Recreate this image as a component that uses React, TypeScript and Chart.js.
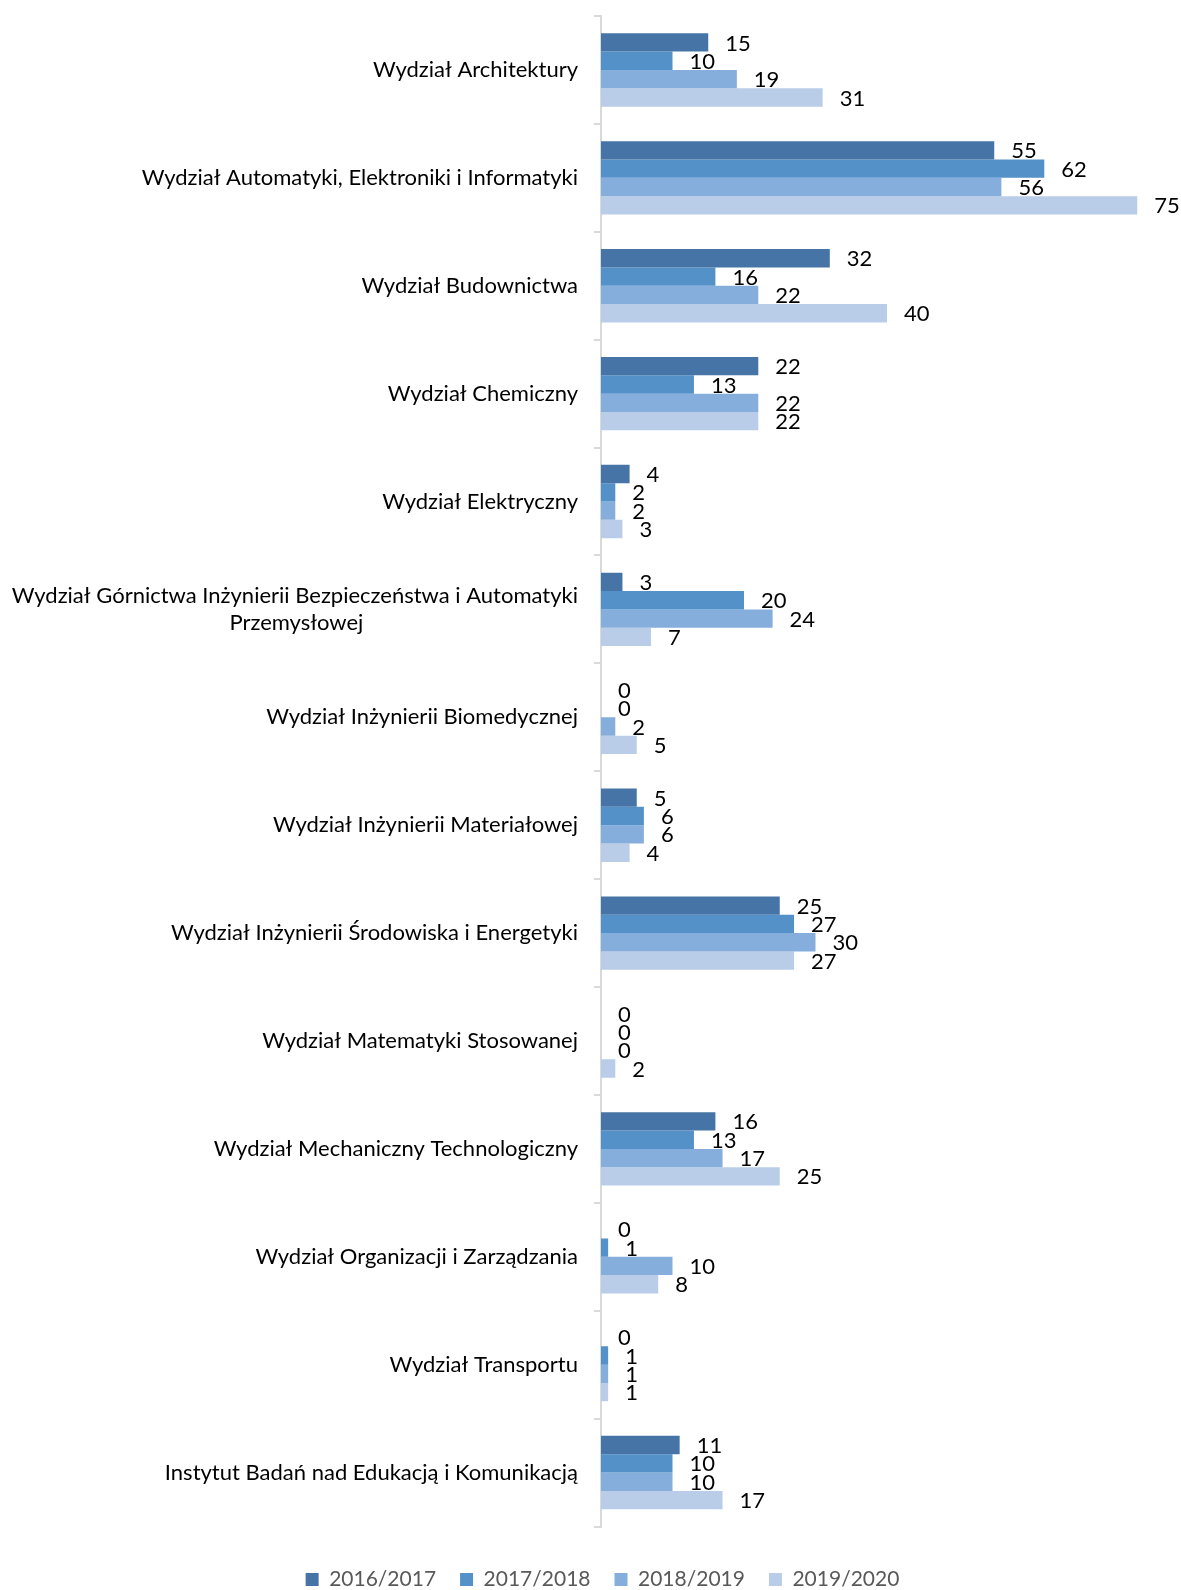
import React, { useEffect, useRef } from "react";
import { Chart, registerables } from "chart.js";

Chart.register(...registerables);

const EN = "\u2002";

const categories: (string | string[])[] = [
  "Wydział Architektury",
  "Wydział Automatyki, Elektroniki i Informatyki",
  "Wydział Budownictwa",
  "Wydział Chemiczny",
  "Wydział Elektryczny",
  ["Wydział Górnictwa Inżynierii Bezpieczeństwa i Automatyki", "Przemysłowej" + EN.repeat(19) + " "],
  "Wydział Inżynierii Biomedycznej",
  "Wydział Inżynierii Materiałowej",
  "Wydział Inżynierii Środowiska i Energetyki",
  "Wydział Matematyki Stosowanej",
  "Wydział Mechaniczny Technologiczny",
  "Wydział Organizacji i Zarządzania",
  "Wydział Transportu",
  "Instytut Badań nad Edukacją i Komunikacją",
];

const seriesLabels = ["2016/2017", "2017/2018", "2018/2019", "2019/2020"];
const values2016 = [15, 55, 32, 22, 4, 3, 0, 5, 25, 0, 16, 0, 0, 11];
const values2017 = [10, 62, 16, 13, 2, 20, 0, 6, 27, 0, 13, 1, 1, 10];
const values2018 = [19, 56, 22, 22, 2, 24, 2, 6, 30, 0, 17, 10, 1, 10];
const values2019 = [31, 75, 40, 22, 3, 7, 5, 4, 27, 2, 25, 8, 1, 17];
const colors = ["#4674A6", "#5591C9", "#86AEDC", "#B9CDE9"];

const FONT = "Lato, Calibri, Carlito, sans-serif";

const labelPlugin = {
  id: "barLabels",
  afterDatasetsDraw(chart: any) {
    const ctx = chart.ctx;
    ctx.save();
    ctx.font = `22px ${FONT}`;
    ctx.fillStyle = "#000000";
    ctx.textAlign = "left";
    ctx.textBaseline = "middle";
    chart.data.datasets.forEach((ds: any, di: number) => {
      const meta = chart.getDatasetMeta(di);
      meta.data.forEach((bar: any, i: number) => {
        ctx.fillText(String(ds.data[i]), bar.x + 17, bar.y + 1);
      });
    });
    ctx.restore();
  },
};

const legendShift = {
  id: "legendShift",
  afterLayout(chart: any) {
    if (chart.legend) {
      chart.legend.left += 16;
      chart.legend.right += 16;
    }
  },
};

export default function App() {
  const ref = useRef<HTMLCanvasElement>(null);
  useEffect(() => {
    document.body.style.margin = "0";
    if (!ref.current) return;
    const all = [values2016, values2017, values2018, values2019];
    const chart = new Chart(ref.current, {
      type: "bar",
      data: {
        labels: categories,
        datasets: all.map((d, i) => ({
          label: seriesLabels[i],
          data: d,
          backgroundColor: colors[i],
          borderWidth: 0,
          barPercentage: 1,
          categoryPercentage: 0.68,
        })),
      },
      options: {
        indexAxis: "y",
        animation: false,
        responsive: false,
        devicePixelRatio: 1,
        layout: { padding: { top: 16, right: 8, bottom: 0, left: 0 } },
        scales: {
          x: { display: false, min: 0, max: 80 },
          y: {
            afterFit: (scale: any) => {
              scale.width = 601;
              scale.paddingTop = 0;
              scale.paddingBottom = 0;
            },
            border: { display: true, color: "#D9D9D9", width: 2 },
            grid: {
              display: true,
              offset: true,
              drawOnChartArea: false,
              drawTicks: true,
              tickLength: 7,
              color: "#D9D9D9",
              lineWidth: 2,
            },
            ticks: {
              color: "#000000",
              font: { family: FONT, size: 22 },
              padding: 16,
              autoSkip: false,
            },
          },
        },
        plugins: {
          legend: {
            position: "bottom",
            title: {
              display: true,
              text: "",
              font: { size: 10 },
              padding: { top: 6.5, bottom: 0 },
            },
            labels: {
              color: "#595959",
              font: { family: FONT, size: 21 },
              boxWidth: 13,
              boxHeight: 13,
              padding: 24,
            },
          },
          tooltip: { enabled: false },
        },
      },
      plugins: [labelPlugin, legendShift],
    });
    return () => chart.destroy();
  }, []);
  return (
    <div style={{ width: 1181, height: 1590, position: "relative", overflow: "hidden" }}>
      <canvas ref={ref} width={1181} height={1600} style={{ display: "block" }} />
    </div>
  );
}
